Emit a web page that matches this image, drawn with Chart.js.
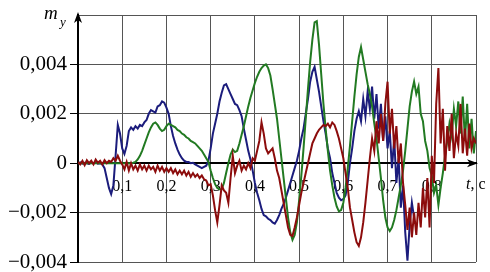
<!DOCTYPE html>
<html lang="ru">
<head>
  <meta charset="UTF-8">
  <title>m_y(t)</title>
  <script src="https://cdn.jsdelivr.net/npm/chart.js"></script>
  <style>
    body {
      margin: 0;
      background: #fff;
    }
    .box {
      width: 490px;
      height: 272px;
    }
  </style>
</head>
<body>
  <div class="box"><canvas id="myChart"></canvas></div>

<script>
// sample step of the records, s
const dt = 0.005;

// m_y values in units of 1e-3, one value every 5 ms starting at t = 0
const blue = [
  0, 0.03, -0.02, 0.02, 0, -0.03, 0.02, 0, 0.03, -0.02, 0, -0.05,
  -0.2, -0.6, -1.0, -1.25, -0.9, 0.3, 1.55, 1.2, 0.6, 0.38, 0.7, 1.3,
  1.45, 1.35, 1.5, 1.4, 1.55, 1.5, 1.65, 1.75, 2.0, 2.15, 2.1, 2.05,
  2.3, 2.35, 2.5, 2.45, 2.25, 2.0, 1.5, 1.1, 0.8, 0.55, 0.35, 0.2,
  0.1, 0.05, 0.05, 0.0, 0.02, -0.05, -0.1, -0.15, -0.2, -0.15, -0.1, 0.1,
  0.6, 1.2, 1.6, 2.0, 2.5, 2.85, 3.15, 3.2, 3.0, 2.8, 2.6, 2.4,
  2.35, 2.15, 1.9, 1.4, 0.95, 0.5, 0.15, -0.3, -0.8, -1.2, -1.5, -1.85,
  -2.1, -2.15, -2.25, -2.3, -2.4, -2.45, -2.3, -2.1, -1.85, -1.65, -1.4, -1.1,
  -0.8, -0.5, -0.2, 0.1, 0.5, 1.0, 1.4, 2.0, 2.6, 3.3, 3.7, 3.9,
  3.4, 2.9, 2.3, 1.7, 1.2, 0.6, 0.2, -0.4, -0.8, -1.2, -1.4, -1.5,
  -1.45, -1.3, -0.8, 0.0, 0.6, 1.3, 1.8, 2.1, 1.7, 2.6, 1.9, 2.9,
  2.2, 3.1, 1.8, 2.8, 1.4, 2.4, 0.9, 1.9, 0.6, 1.3, -0.2, 1.0,
  -0.8, 0.2, -1.8, -0.9, -2.8, -3.95, -2.5, -1.6, -2.2
];

const red = [
  0.05, -0.05, 0.1, -0.08, 0.12, 0.0, 0.1, -0.05, 0.15, 0.02, 0.1, -0.05,
  0.12, 0.0, 0.1, 0.05, 0.2, 0.1, 0.3, 0.1, -0.05, -0.25, 0.05, -0.3,
  0.0, -0.25, -0.1, -0.3, -0.05, -0.25, -0.1, -0.3, -0.1, -0.25, -0.15, -0.35,
  -0.1, -0.3, -0.15, -0.35, -0.2, -0.35, -0.2, -0.4, -0.25, -0.45, -0.3, -0.45,
  -0.3, -0.5, -0.35, -0.55, -0.4, -0.55, -0.45, -0.6, -0.5, -0.65, -0.7, -0.9,
  -0.85, -1.3, -1.9, -2.4, -1.7, -0.9, -1.1, -1.2, -1.6, -0.6, 0.3, -0.4,
  -0.1, 0.1, -0.3, -0.1, -0.25, 0.0, -0.2, 0.2, 0.1, 0.5, 0.9, 1.65,
  1.2, 0.6, 0.4, 0.5, 0.6, 0.2, -0.3, -0.6, -1.1, -1.6, -2.1, -2.6,
  -2.9, -2.95, -2.6, -2.2, -1.7, -1.2, -0.8, -0.4, 0.0, 0.4, 0.8, 1.0,
  1.2, 1.35, 1.45, 1.55, 1.5, 1.6, 1.45, 1.65, 1.55, 1.3, 1.0, 0.6,
  0.2, -0.4, -1.0, -1.8, -2.3, -2.8, -3.2, -3.35, -3.0, -2.4, -1.6, -0.7,
  0.2, 1.0, 0.5, 1.7, 0.8, 2.0, 0.9, 2.4, 3.3, 1.2, 2.2, 0.6,
  1.5, 0.0, 0.8, -0.8, -1.7, -2.7, -1.8, -3.0, -2.0, -2.9, -1.6, -2.6,
  -1.0, -2.2, -0.6, -2.6, 0.3, -0.8, 2.4, 3.85, 0.8, 2.2, -0.3, 1.5,
  0.5, 2.0, 0.2, 1.2, 0.7, 2.4, 0.4, 1.4, 0.3, 1.6, 0.6, 1.0,
  0.8
];

const green = [
  0, 0, 0, 0, 0, 0, 0, 0, 0, 0, 0, 0,
  0, 0, 0, 0, 0, 0, 0, 0, 0, 0, 0, 0,
  0.0, 0.02, 0.05, 0.15, 0.3, 0.5, 0.75, 1.0, 1.25, 1.45, 1.6, 1.65,
  1.55, 1.4, 1.3, 1.35, 1.5, 1.6, 1.55, 1.5, 1.45, 1.35, 1.3, 1.2,
  1.15, 1.05, 1.0, 0.9, 0.85, 0.8, 0.7, 0.6, 0.5, 0.35, 0.2, 0.05,
  -0.3, -0.6, -0.85, -1.0, -1.05, -1.05, -0.8, -0.4, 0.0, 0.35, 0.55, 0.45,
  0.5, 0.8, 1.15, 1.5, 1.9, 2.3, 2.65, 2.95, 3.25, 3.5, 3.7, 3.85,
  3.95, 4.0, 3.85, 3.55, 3.0, 2.4, 1.8, 1.0, 0.2, -0.6, -1.4, -2.2,
  -2.8, -3.1, -2.9, -2.4, -1.5, -0.5, 0.6, 1.8, 3.0, 4.1, 5.0, 5.7,
  5.75, 4.8, 3.6, 2.4, 1.4, 0.5, -0.3, -0.9, -1.4, -1.75, -1.95, -1.9,
  -1.6, -1.0, -0.2, 0.7, 1.7, 2.7, 3.6, 4.3, 4.7, 4.2, 3.7, 3.2,
  2.8, 2.3, 1.6, 1.0, 0.2, -0.6, -1.5, -2.2, -2.6, -2.75, -2.6, -2.3,
  -1.9, -1.4, -0.9, -0.3, 0.5, 1.4, 2.3, 2.9, 3.3, 2.8, 3.1, 2.0,
  1.7, 0.9, 0.5, -0.2, -0.5, -1.2, -0.9, -1.7, -1.0, -0.4, 0.3, 0.9,
  1.6, 1.1, 2.2, 1.5, 2.5, 1.2, 2.7, 0.9, 2.4, 0.6, 1.8, 0.4,
  1.3
];

// x tick labels (t = 0 and the last line carry no number)
const xTickText = ['', '0,1', '0,2', '0,3', '0,4', '0,5', '0,6', '0,7', '0,8', ''];
// y tick labels, from -0.004 up to 0.006
const yTickText = ['\u22120,004', '\u22120,002', '0', '0,002', '0,004', ''];

const serif = "'Liberation Serif', 'DejaVu Serif', serif";

function toPoints(arr) {
  return arr.map((v, i) => ({ x: i * dt, y: v }));
}

// arrows on the axes and the axis names
const axisDecor = {
  id: 'axisDecor',
  afterDraw(chart) {
    const ctx = chart.ctx;
    const a = chart.chartArea;
    const y0 = chart.scales.y.getPixelForValue(0);
    ctx.save();
    ctx.fillStyle = '#000';
    // arrow up
    ctx.beginPath();
    ctx.moveTo(a.left, a.top - 3);
    ctx.lineTo(a.left - 4, a.top + 8);
    ctx.lineTo(a.left, a.top + 5);
    ctx.lineTo(a.left + 4, a.top + 8);
    ctx.closePath();
    ctx.fill();
    // arrow right
    ctx.beginPath();
    ctx.moveTo(a.right + 2, y0);
    ctx.lineTo(a.right - 9, y0 - 4);
    ctx.lineTo(a.right - 6, y0);
    ctx.lineTo(a.right - 9, y0 + 4);
    ctx.closePath();
    ctx.fill();

    ctx.textBaseline = 'alphabetic';
    ctx.textAlign = 'left';
    ctx.font = 'italic 19px ' + serif;
    ctx.fillText('m', 44, 19);
    ctx.font = 'italic 13px ' + serif;
    ctx.fillText('y', 60, 26);

    ctx.font = 'italic 16px ' + serif;
    ctx.fillText('t', 466, y0 + 26);
    const tw = ctx.measureText('t').width;
    ctx.font = '16px ' + serif;
    ctx.fillText(', c', 466 + tw, y0 + 26);
    ctx.restore();
  }
};

new Chart(document.getElementById('myChart'), {
  type: 'line',
  data: {
    datasets: [
      { label: 'red', data: toPoints(red), borderColor: '#8c0c0c', order: 1 },
      { label: 'green', data: toPoints(green), borderColor: '#227a22', order: 2 },
      { label: 'blue', data: toPoints(blue), borderColor: '#1b1c7c', order: 3 }
    ]
  },
  options: {
    responsive: true,
    maintainAspectRatio: false,
    animation: false,
    parsing: false,
    layout: { padding: { top: 15, right: 11, bottom: 10, left: 0 } },
    elements: {
      line: { borderWidth: 2, tension: 0 },
      point: { radius: 0 }
    },
    scales: {
      x: {
        type: 'linear',
        position: { y: 0 },
        min: 0,
        max: 0.9,
        ticks: {
          stepSize: 0.1,
          padding: 14,
          color: '#000',
          font: { family: serif, size: 16 },
          maxRotation: 0,
          callback: (v) => xTickText[Math.round(v * 10)]
        },
        grid: { color: '#555', lineWidth: 1, drawTicks: false },
        border: { display: true, color: '#000', width: 2 }
      },
      y: {
        min: -4,
        max: 6,
        afterFit: (s) => { s.width = 78; },
        ticks: {
          stepSize: 2,
          padding: 3,
          color: '#000',
          font: { family: serif, size: 21, lineHeight: 0.6 },
          callback: (v) => yTickText[Math.round((v + 4) / 2)]
        },
        grid: {
          color: '#555',
          lineWidth: 1,
          tickLength: 8,
          tickColor: (c) => (c.tick && c.tick.value === 6 ? 'rgba(0,0,0,0)' : '#000')
        },
        border: { display: true, color: '#000', width: 2 }
      }
    },
    plugins: {
      legend: { display: false },
      tooltip: { enabled: false }
    }
  },
  plugins: [axisDecor]
});
</script>
</body>
</html>
